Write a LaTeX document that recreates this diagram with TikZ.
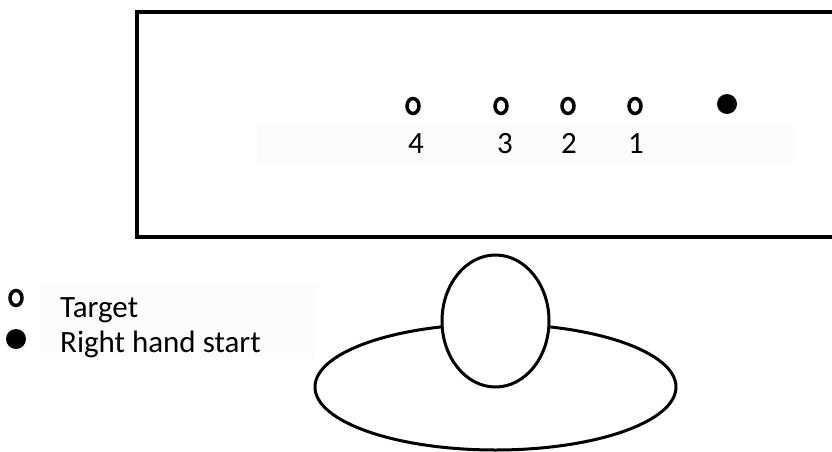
\documentclass[tikz,border=0pt]{standalone}
\usepackage{fontspec}
\setmainfont{Carlito}
\usetikzlibrary{positioning, shapes.geometric}

\begin{document}
\begin{tikzpicture}[x=1pt, y=-1pt]
    \tikzset{
    target/.style={
        ellipse,
        draw,
        line width=3.5pt,
        minimum width=12pt,
        minimum height=15pt,
        inner sep=0pt
    },
    start/.style={
        circle,
        fill=black,
        minimum size=20pt,
        inner sep=0pt
    },
    num/.style={
        anchor=base,
        inner sep=0pt,
        font=\fontsize{31}{37}\selectfont
    },
    legend/.style={
        anchor=base west,
        inner sep=0pt,
        font=\fontsize{31}{37}\selectfont
    },
    outline/.style={
        draw, line width=3pt, fill=white
    }
}
    \useasboundingbox (0,0) rectangle (832,452);

    % Bildschirm
    \draw[line width=4pt] (840,12) -- (137,12) -- (137,237) -- (840,237);
    \fill[black!1] (257,125) rectangle (794,163);

    \node[target] (t4) at (413,106) {};
    \node[target] (t3) at (501,106) {};
    \node[target] (t2) at (568,106) {};
    \node[target] (t1) at (635,106) {};
    \node[start] (rhs) at (727,104) {};

    \node[num] (n4) at (416,153) {4};
    \node[num] (n3) at (505,153) {3};
    \node[num] (n2) at (569,153) {2};
    \node[num] (n1) at (636,153) {1};

    % Legende
    \fill[black!1] (40,284) rectangle (315,358);
    \node[target] (lt) at (16,298) {};
    \node[start] (ls) at (16,339) {};
    \node[legend] (ltxt) at (60,317) {Target};
    \node[legend] (lstxt) at (60,352) {Right hand start};

    % Tisch und Person
    \draw[outline] (495.5,387) ellipse [x radius=180.5, y radius=63];
    \draw[outline] (495.5,321) ellipse [x radius=53.5, y radius=66];
\end{tikzpicture}
\end{document}
